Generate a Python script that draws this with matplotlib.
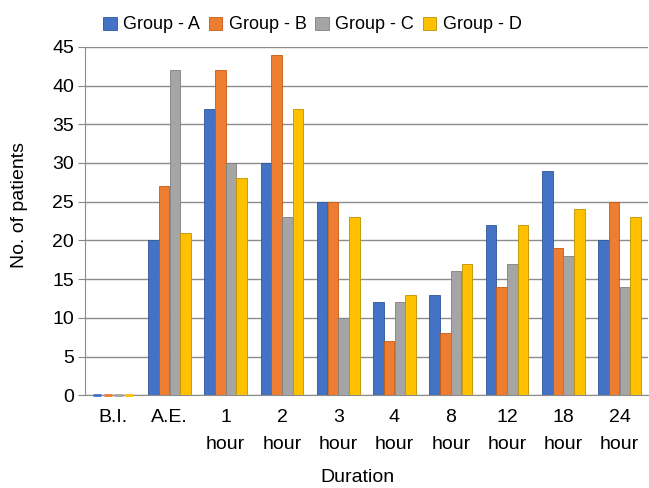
import numpy as np
import matplotlib.pyplot as plt

plt.rcParams['font.family'] = ['Liberation Sans', 'DejaVu Sans']

categories = ['B.I.', 'A.E.', '1\nhour', '2\nhour', '3\nhour', '4\nhour',
              '8\nhour', '12\nhour', '18\nhour', '24\nhour']
group_a = [0, 20, 37, 30, 25, 12, 13, 22, 29, 20]
group_b = [0, 27, 42, 44, 25, 7, 8, 14, 19, 25]
group_c = [0, 42, 30, 23, 10, 12, 16, 17, 18, 14]
group_d = [0, 21, 28, 37, 23, 13, 17, 22, 24, 23]
series = ['Group - A', 'Group - B', 'Group - C', 'Group - D']
colors = ['#4472C4', '#ED7D31', '#A5A5A5', '#FFC000']
edges = ['#2F5597', '#C55A11', '#7F7F7F', '#BF9000']

fig = plt.figure(figsize=(6.49, 4.88), dpi=100)
ax = fig.add_axes([0.131, 0.19, 0.867, 0.714])

x = np.arange(len(categories))
w = 0.19
for i, vals in enumerate([group_a, group_b, group_c, group_d]):
    ax.bar(x + (i - 1.5) * w, vals, width=w * 0.98, color=colors[i],
           edgecolor=edges[i], linewidth=0.6, label=series[i], zorder=3)
    # the zero bars still show as a thin flat cap in the reference
    zero = [j for j, v in enumerate(vals) if v == 0]
    ax.bar(x[zero] + (i - 1.5) * w, [0] * len(zero), width=w * 0.8,
           edgecolor=colors[i], linewidth=2, zorder=4, clip_on=False)

ax.set_xlim(-0.5, len(categories) - 0.5)
ax.set_ylim(0, 45)
ax.set_yticks(range(0, 46, 5))
ax.set_xticks(x)
ax.set_xticklabels(categories, linespacing=1.75, va='top')
ax.tick_params(axis='x', length=0, labelsize=14, pad=10)
ax.tick_params(axis='y', length=5, color='#888888', labelsize=14, pad=3)
ax.grid(axis='y', color='#8c8c8c', linewidth=1.0, zorder=0)
for s in ['top', 'right']:
    ax.spines[s].set_visible(False)
ax.spines['left'].set_color('#8c8c8c')
ax.spines['bottom'].set_color('#8c8c8c')

ax.set_ylabel('No. of patients', fontsize=14)
ax.set_xlabel('Duration', fontsize=14)
ax.yaxis.set_label_coords(-0.101, 0.546)
ax.xaxis.set_label_coords(0.485, -0.213)

ax.legend(loc='center', bbox_to_anchor=(0.404, 1.063), ncol=4, frameon=False,
          fontsize=13, handlelength=0.74, handleheight=0.74, handletextpad=0.35,
          columnspacing=0.5, borderaxespad=0, borderpad=0)

fig.savefig('out.png', dpi=100)
